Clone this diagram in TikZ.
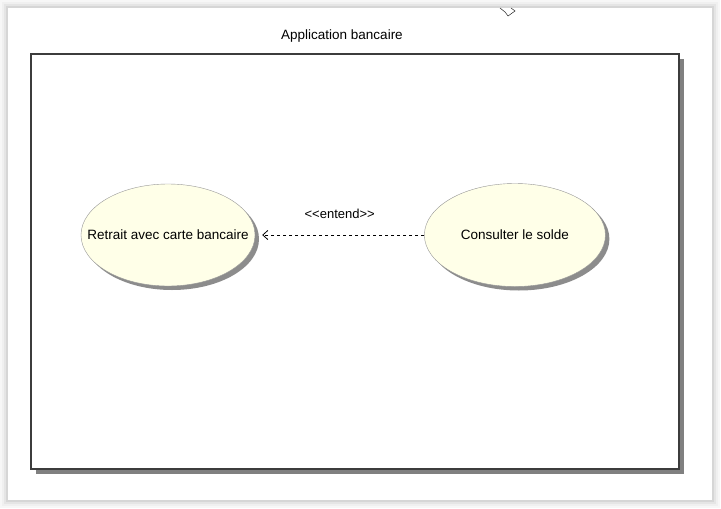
\documentclass[tikz,border=0pt]{standalone}
\usepackage{fontspec}
\setmainfont{Liberation Sans}
\usepackage{tikz}
\usetikzlibrary{arrows.meta,positioning,shapes.geometric,shadows}
\definecolor{casefill}{RGB}{255,255,232}
\definecolor{caseline}{RGB}{150,150,150}
\definecolor{framegray}{RGB}{60,60,60}
\tikzset{
    >={Straight Barb[length=5pt,width=9pt]},
    font=\fontsize{13.5}{16}\selectfont,
    use case/.style={ellipse,draw=caseline,fill=casefill,inner xsep=-35pt,inner ysep=0pt,
        drop shadow={shadow xshift=4pt,shadow yshift=-4pt,fill=black!45,opacity=1}},
    system box/.style={rectangle,draw=framegray,line width=1.3pt,fill=white,
        minimum width=648pt,minimum height=415pt,
        drop shadow={shadow xshift=5pt,shadow yshift=-5pt,fill=black!50,opacity=1}},
    extend line/.style={dash pattern=on 3pt off 3pt,thick}
}
\begin{document}
\begin{tikzpicture}[x=1pt,y=-1pt]
    \useasboundingbox (0,0) rectangle (721,509);
    % page
    \foreach \d/\g in {8/3,6/6,4/10,2/16}
        \fill[black!\g] (8-\d,8-\d) rectangle (712+\d,500+\d);
    \fill[white] (8,8) rectangle (712,500);
    \draw[thin] (500,8) -- (505,12) -- (508,16) -- (515,11) -- (511,8);
    % system
    \node[system box] (app) at (355,261.5) {};
    \node (title) at (342,36) {Application bancaire};
    % use cases
    \node[use case,minimum width=174pt,minimum height=102pt] (retrait) at (168,235) {Retrait avec carte bancaire};
    \node[use case,minimum width=181pt,minimum height=103pt] (solde) [right = 169pt of retrait] {Consulter le solde};
    \path
        (solde) edge [->,extend line,shorten >=7pt] node [above=13pt] {\fontsize{13}{15}\selectfont<{}<entend>{}>} (retrait)
        ;
\end{tikzpicture}
\end{document}
